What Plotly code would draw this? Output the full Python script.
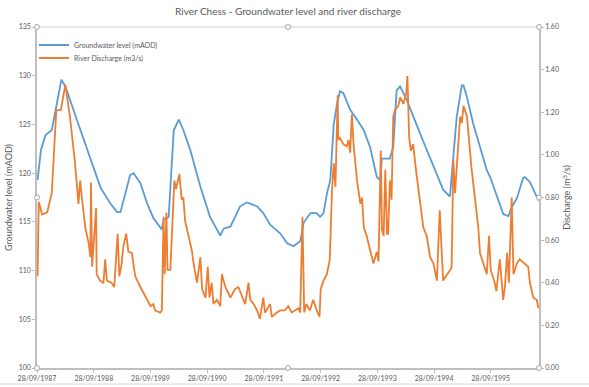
import datetime as dt
import plotly.graph_objects as go

# ---- data (dates as decimal years) ----
gw_t = [1987.75, 1987.81, 1987.89, 1988.00, 1988.17, 1988.24, 1988.44, 1988.68, 1988.86, 1989.03,
        1989.15, 1989.21, 1989.38, 1989.44, 1989.56, 1989.68, 1989.79, 1989.94, 1989.97, 1990.06,
        1990.12, 1990.15, 1990.24, 1990.32, 1990.44, 1990.62, 1990.79, 1990.97, 1991.03, 1991.15,
        1991.32, 1991.44, 1991.53, 1991.62, 1991.73, 1991.85, 1992.03, 1992.15, 1992.26, 1992.38,
        1992.44, 1992.56, 1992.67, 1992.73, 1992.79, 1992.85, 1992.91, 1992.97, 1993.03, 1993.08,
        1993.14, 1993.26, 1993.38, 1993.50, 1993.61, 1993.73, 1993.79, 1993.82, 1993.96, 1994.02,
        1994.08, 1994.14, 1994.26, 1994.37, 1994.49, 1994.61, 1994.73, 1994.84, 1994.90, 1995.02,
        1995.08, 1995.14, 1995.23, 1995.26, 1995.32, 1995.43, 1995.55, 1995.67, 1995.73, 1995.85,
        1995.96, 1996.05, 1996.11, 1996.20, 1996.31, 1996.34, 1996.43, 1996.58]
gw_level = [119.3, 122.4, 123.9, 124.4, 129.6, 128.9, 125.5, 121.6, 118.5, 116.9,
            116.0, 116.0, 119.8, 120.0, 119.0, 116.9, 115.4, 114.2, 115.2, 115.5,
            121.0, 124.4, 125.5, 124.4, 122.4, 118.6, 115.5, 113.6, 114.3, 114.5,
            116.6, 117.0, 116.8, 116.6, 115.9, 114.7, 113.8, 112.8, 112.5, 113.0,
            114.9, 115.9, 115.9, 115.5, 115.9, 117.9, 119.3, 125.0, 127.2, 128.4,
            128.2, 126.5, 125.5, 124.4, 122.7, 119.6, 119.3, 121.5, 121.5, 122.7,
            128.5, 128.9, 127.5, 125.8, 124.1, 122.4, 120.7, 119.0, 118.3, 117.6,
            121.3, 125.8, 129.0, 129.0, 127.8, 125.1, 122.7, 120.3, 119.6, 117.6,
            115.8, 115.6, 116.5, 117.4, 119.5, 119.6, 119.1, 117.2]

q_t = [1987.75, 1987.77, 1987.83, 1987.92, 1988.00, 1988.08, 1988.16, 1988.24, 1988.32, 1988.41,
       1988.47, 1988.50, 1988.53, 1988.59, 1988.65, 1988.68, 1988.69, 1988.71, 1988.78, 1988.79,
       1988.85, 1988.91, 1988.94, 1988.97, 1989.05, 1989.10, 1989.16, 1989.19, 1989.23, 1989.26,
       1989.31, 1989.35, 1989.41, 1989.47, 1989.56, 1989.62, 1989.68, 1989.74, 1989.79, 1989.82,
       1989.91, 1989.94, 1989.97, 1989.99, 1990.02, 1990.04, 1990.09, 1990.12, 1990.16, 1990.19,
       1990.25, 1990.29, 1990.32, 1990.35, 1990.41, 1990.47, 1990.50, 1990.56, 1990.62, 1990.65,
       1990.71, 1990.75, 1990.78, 1990.82, 1990.85, 1990.91, 1990.97, 1991.00, 1991.06, 1991.15,
       1991.23, 1991.29, 1991.41, 1991.47, 1991.50, 1991.56, 1991.62, 1991.67, 1991.73, 1991.76,
       1991.85, 1991.88, 1991.97, 1992.03, 1992.11, 1992.17, 1992.23, 1992.29, 1992.35, 1992.38,
       1992.42, 1992.45, 1992.49, 1992.55, 1992.61, 1992.67, 1992.72, 1992.74, 1992.79, 1992.85,
       1992.90, 1992.94, 1992.97, 1993.00, 1993.04, 1993.05, 1993.08, 1993.14, 1993.20, 1993.23,
       1993.26, 1993.29, 1993.32, 1993.38, 1993.44, 1993.47, 1993.50, 1993.55, 1993.61, 1993.67,
       1993.73, 1993.76, 1993.80, 1993.82, 1993.85, 1993.88, 1993.91, 1993.93, 1993.96, 1993.99,
       1994.02, 1994.05, 1994.11, 1994.14, 1994.20, 1994.25, 1994.27, 1994.30, 1994.33, 1994.37,
       1994.43, 1994.49, 1994.55, 1994.61, 1994.67, 1994.73, 1994.79, 1994.84, 1994.88, 1994.90,
       1995.05, 1995.08, 1995.11, 1995.17, 1995.20, 1995.23, 1995.26, 1995.32, 1995.37, 1995.40,
       1995.46, 1995.52, 1995.55, 1995.61, 1995.67, 1995.71, 1995.74, 1995.81, 1995.84, 1995.90,
       1995.96, 1995.99, 1996.03, 1996.06, 1996.11, 1996.14, 1996.20, 1996.25, 1996.34, 1996.40,
       1996.43, 1996.49, 1996.55, 1996.58]
q_discharge = [0.43, 0.78, 0.72, 0.73, 0.82, 1.21, 1.21, 1.33, 1.18, 0.96,
               0.77, 0.88, 0.80, 0.66, 0.585, 0.52, 0.87, 0.475, 0.75, 0.44,
               0.41, 0.40, 0.51, 0.41, 0.40, 0.38, 0.63, 0.43, 0.49, 0.57,
               0.63, 0.545, 0.54, 0.43, 0.38, 0.35, 0.32, 0.29, 0.30, 0.27,
               0.26, 0.27, 0.71, 0.44, 0.73, 0.46, 0.46, 0.62, 0.88, 0.84,
               0.91, 0.79, 0.80, 0.69, 0.62, 0.55, 0.49, 0.40, 0.52, 0.37,
               0.33, 0.475, 0.33, 0.40, 0.30, 0.32, 0.29, 0.44, 0.38, 0.33,
               0.37, 0.38, 0.30, 0.40, 0.32, 0.30, 0.27, 0.23, 0.33, 0.26,
               0.30, 0.24, 0.26, 0.27, 0.27, 0.29, 0.26, 0.27, 0.28, 0.26,
               0.71, 0.26, 0.30, 0.27, 0.32, 0.27, 0.24, 0.37, 0.41, 0.44,
               0.51, 0.835, 0.96, 0.85, 1.28, 1.07, 1.08, 1.05, 1.04, 1.07,
               1.01, 1.19, 1.05, 0.88, 0.77, 0.80, 0.66, 0.62, 0.55, 0.49,
               0.545, 0.50, 1.02, 0.65, 0.62, 0.93, 0.63, 0.63, 0.88, 0.79,
               1.18, 1.21, 1.23, 1.27, 1.24, 1.29, 1.37, 1.085, 1.02, 1.05,
               0.91, 0.79, 0.66, 0.62, 0.52, 0.49, 0.41, 0.74, 0.475, 0.41,
               0.47, 0.98, 0.82, 1.085, 1.18, 1.15, 1.23, 1.18, 1.01, 0.94,
               0.80, 0.66, 0.54, 0.49, 0.44, 0.62, 0.46, 0.40, 0.36, 0.51,
               0.32, 0.38, 0.54, 0.40, 0.80, 0.44, 0.49, 0.51, 0.49, 0.475,
               0.40, 0.33, 0.32, 0.28]

tick_years = list(range(1987, 1996))
title_text = "River Chess - Groundwater level and river discharge"
series_names = ["Groundwater level (mAOD)", "River Discharge (m3/s)"]


def to_date(y):
    yr = int(y)
    start = dt.datetime(yr, 1, 1)
    end = dt.datetime(yr + 1, 1, 1)
    return start + (end - start) * (y - yr)


gw_dates = [to_date(v) for v in gw_t]
q_dates = [to_date(v) for v in q_t]
tickvals = [dt.datetime(y, 9, 28) for y in tick_years]
ticktext = [d.strftime("%d/%m/%Y") for d in tickvals]

FONT = "Lato"
GREY = "#595959"
AXC = "#bfbfbf"
PW, PH = 502, 341  # plot area size in px

fig = go.Figure()
fig.add_trace(go.Scatter(x=gw_dates, y=gw_level, mode="lines", name=series_names[0],
                         line=dict(color="#5B9BD5", width=1.8), legend="legend"))
fig.add_trace(go.Scatter(x=q_dates, y=q_discharge, mode="lines", name=series_names[1],
                         line=dict(color="#ED7D31", width=1.8), yaxis="y2", legend="legend2"))

leg_common = dict(xanchor="left", yanchor="middle", bgcolor="rgba(0,0,0,0)",
                  font=dict(size=7, color=GREY, family=FONT), itemwidth=30, borderwidth=0)

fig.update_layout(
    template="none",
    width=589, height=387,
    margin=dict(l=37, r=50, t=27, b=19, autoexpand=False),
    paper_bgcolor="white", plot_bgcolor="white",
    font=dict(family=FONT, color=GREY, size=7),
    title=dict(text=title_text, x=0.5, xref="paper", xanchor="center", y=1 - 11 / 387,
               yref="container", yanchor="middle",
               font=dict(size=10, color=GREY, family=FONT)),
    showlegend=True,
    legend=dict(x=-3 / PW, y=1 - (45 - 27) / PH, **leg_common),
    legend2=dict(x=-3 / PW, y=1 - (58 - 27) / PH, **leg_common),
    xaxis=dict(type="date", range=[dt.datetime(1987, 9, 28), to_date(1996.59)],
               tickvals=tickvals, ticktext=ticktext, showgrid=False, zeroline=False,
               automargin=False,
               showline=True, linecolor=AXC, linewidth=1.5, ticks="outside", ticklen=3,
               tickcolor=AXC, tickfont=dict(size=7, color=GREY, family=FONT)),
    yaxis=dict(range=[100, 135], dtick=5, showgrid=False, zeroline=False, showline=True,
               automargin=False,
               linecolor=AXC, linewidth=1.5, ticks="outside", ticklen=3, tickcolor=AXC,
               title=dict(text="Groundwater level (mAOD)", font=dict(size=9, color=GREY, family=FONT),
                          standoff=5),
               tickfont=dict(size=7, color=GREY, family=FONT)),
    yaxis2=dict(range=[0, 1.6], dtick=0.2, tickformat=".2f", overlaying="y", side="right",
                automargin=False,
                showgrid=False, zeroline=False, showline=True, linecolor=AXC, linewidth=1.5,
                ticks="outside", ticklen=3, tickcolor=AXC,
                title=dict(text="Discharge (m<sup>3</sup>/s)", font=dict(size=9, color=GREY, family=FONT),
                           standoff=6),
                tickfont=dict(size=7, color=GREY, family=FONT)),
)

# plot-area selection frame (top edge), handles, and chart-area bottom border
shapes = [dict(type="line", xref="paper", yref="paper", x0=0, x1=1, y0=1, y1=1,
               line=dict(color="#d0d0d0", width=1))]
handles = [(0, 1), (0.5, 1), (1, 1), (0, 0.5), (1, 0.5), (0, 0), (0.5, 0), (1, 0)]
for hx, hy in handles:
    shapes.append(dict(type="circle", xref="paper", yref="paper", xsizemode="pixel",
                       ysizemode="pixel", xanchor=hx, yanchor=hy, x0=-2.5, x1=2.5, y0=-2.5, y1=2.5,
                       line=dict(color="#a6a6a6", width=1), fillcolor="white"))
shapes.append(dict(type="line", xref="paper", yref="paper", x0=-37 / PW, x1=1 + 50 / PW,
                   y0=-16 / PH, y1=-16 / PH, line=dict(color="#d9d9d9", width=1)))
fig.layout.shapes = shapes

fig.write_html("out.html", config={"displayModeBar": False},
               post_script="document.body.style.margin='0';document.body.style.overflow='hidden';")
